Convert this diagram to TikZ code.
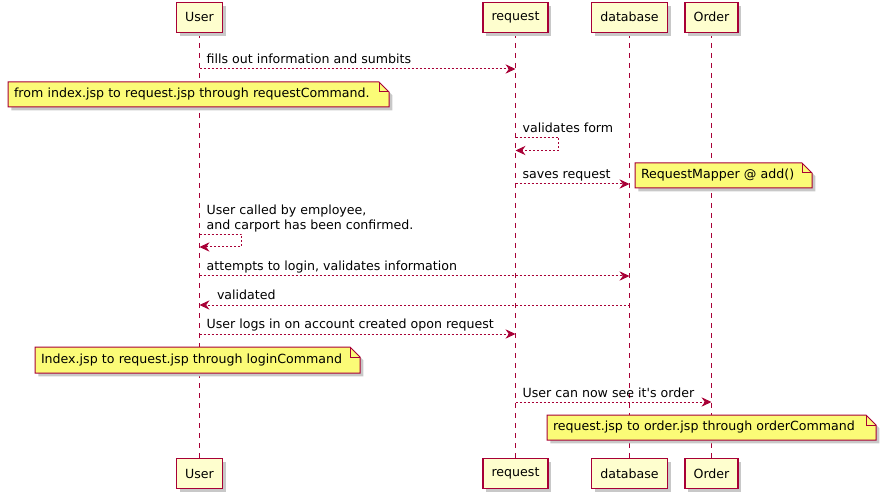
\documentclass[tikz,border=0pt]{standalone}
\usepackage{fontspec}
\setmainfont{DejaVu Sans}[Ligatures=TeXOff]
\usetikzlibrary{arrows.meta,shadows}
\definecolor{umlred}{HTML}{A80036}
\definecolor{umlbox}{HTML}{FEFECE}
\definecolor{umlnote}{HTML}{FBFB77}
\definecolor{umlshade}{HTML}{C8C8C8}
\tikzset{
  actor/.style={draw=umlred, fill=umlbox, line width=1.1pt, minimum height=22.5pt, inner xsep=6.5pt,
    drop shadow={shadow xshift=2.5pt, shadow yshift=-2.5pt, fill=umlshade, opacity=1}},
  lifeln/.style={umlred, line width=1pt, dash pattern=on 3.75pt off 3.75pt},
  msg/.style={draw=umlred, line width=0.75pt, dash pattern=on 1.5pt off 1.5pt,
    -{Stealth[length=7.5pt, width=7pt, inset=2.5pt]}},
  msglabel/.style={text=black, anchor=base west, inner sep=0pt, xshift=5pt, yshift=3.75pt, align=left},
  note/.style={inner xsep=4.5pt, text width=#1, align=left, minimum height=18.75pt},
  notebg/.style={fill=umlnote, draw=umlred, line width=0.75pt,
    drop shadow={shadow xshift=2.5pt, shadow yshift=-2.5pt, fill=umlshade, opacity=1}},
  notefold/.style={draw=umlred, line width=0.75pt}
}
% note paper with folded corner: left, top, right, bottom
\newcommand{\notepaper}[4]{%
  \filldraw[notebg] (#1,#4) -- (#1,#2) -- (#3-10,#2) -- (#3,#2+10) -- (#3,#4) -- cycle;
  \draw[notefold] (#3-10,#2) |- (#3,#2+10);}

\begin{document}
\begin{tikzpicture}[x=0.75pt, y=-0.75pt, font=\fontsize{9.45pt}{11.25pt}\selectfont]
    \useasboundingbox (0,0) rectangle (886,499);

    % lifelines
    \coordinate (userL) at (199.5,33);
    \coordinate (userE) at (199.5,458);
    \coordinate (reqL) at (515.5,33);
    \coordinate (reqE) at (515.5,458);
    \coordinate (dbL) at (629.5,33);
    \coordinate (dbE) at (629.5,458);
    \coordinate (ordL) at (711.5,33);
    \coordinate (ordE) at (711.5,458);
    \draw[lifeln] (userL) -- (userE);
    \draw[lifeln] (reqL) -- (reqE);
    \draw[lifeln] (dbL) -- (dbE);
    \draw[lifeln] (ordL) -- (ordE);

    % participants
    \node[actor, anchor=south] (userTop) at (userL) {User};
    \node[actor, anchor=south] (reqTop) at (reqL) {request};
    \node[actor, anchor=south] (dbTop) at (dbL) {database};
    \node[actor, anchor=south] (ordTop) at (ordL) {Order};
    \node[actor, anchor=north] (userBot) at (userE) {User};
    \node[actor, anchor=north] (reqBot) at (reqE) {request};
    \node[actor, anchor=north] (dbBot) at (dbE) {database};
    \node[actor, anchor=north] (ordBot) at (ordE) {Order};

    % notes
    \notepaper{8}{82}{389}{107}
    \notepaper{635}{163}{812}{188}
    \notepaper{35}{347}{360}{373}
    \notepaper{547}{415}{876}{440}
    \node[note=276.75pt] (n1) at (198.5,94.5) {from index.jsp to request.jsp through requestCommand.};
    \node[note=123.75pt] (n2) at (723.5,175.5) {RequestMapper @ add()};
    \node[note=234.75pt] (n3) at (197.5,360) {Index.jsp to request.jsp through loginCommand};
    \node[note=237.75pt] (n4) at (711.5,427.5) {request.jsp to order.jsp through orderCommand};

    % message rows
    \coordinate (r1) at (0,69);
    \coordinate (r2) at (0,137.5);
    \coordinate (r2b) at (0,150.5);
    \coordinate (r3) at (0,184);
    \coordinate (r4) at (0,234.5);
    \coordinate (r4b) at (0,247);
    \coordinate (r5) at (0,276);
    \coordinate (r6) at (0,305);
    \coordinate (r7) at (0,334);
    \coordinate (r8) at (0,402);

    % messages
    \draw[msg] (userTop |- r1) -- (reqTop |- r1) node[msglabel, at start] (m1) {fills out information and sumbits};
    \draw[msg] (reqTop |- r2) -- ++(43,0) node[msglabel, at start] (m2) {validates form} |- (reqTop |- r2b);
    \draw[msg] (reqTop |- r3) -- (dbTop |- r3) node[msglabel, at start] (m3) {saves request};
    \draw[msg] (userTop |- r4) -- ++(42,0) node[msglabel, at start] (m4) {User called by employee,\\and carport has been confirmed.} |- (userTop |- r4b);
    \draw[msg] (userTop |- r5) -- (dbTop |- r5) node[msglabel, at start] (m5) {attempts to login, validates information};
    \draw[msg] (dbTop |- r6) -- (userTop |- r6) node[msglabel, at end, xshift=7.75pt] (m6) {validated};
    \draw[msg] (userTop |- r7) -- (reqTop |- r7) node[msglabel, at start] (m7) {User logs in on account created opon request};
    \draw[msg] (reqTop |- r8) -- (ordTop |- r8) node[msglabel, at start] (m8) {User can now see it's order};
\end{tikzpicture}
\end{document}
